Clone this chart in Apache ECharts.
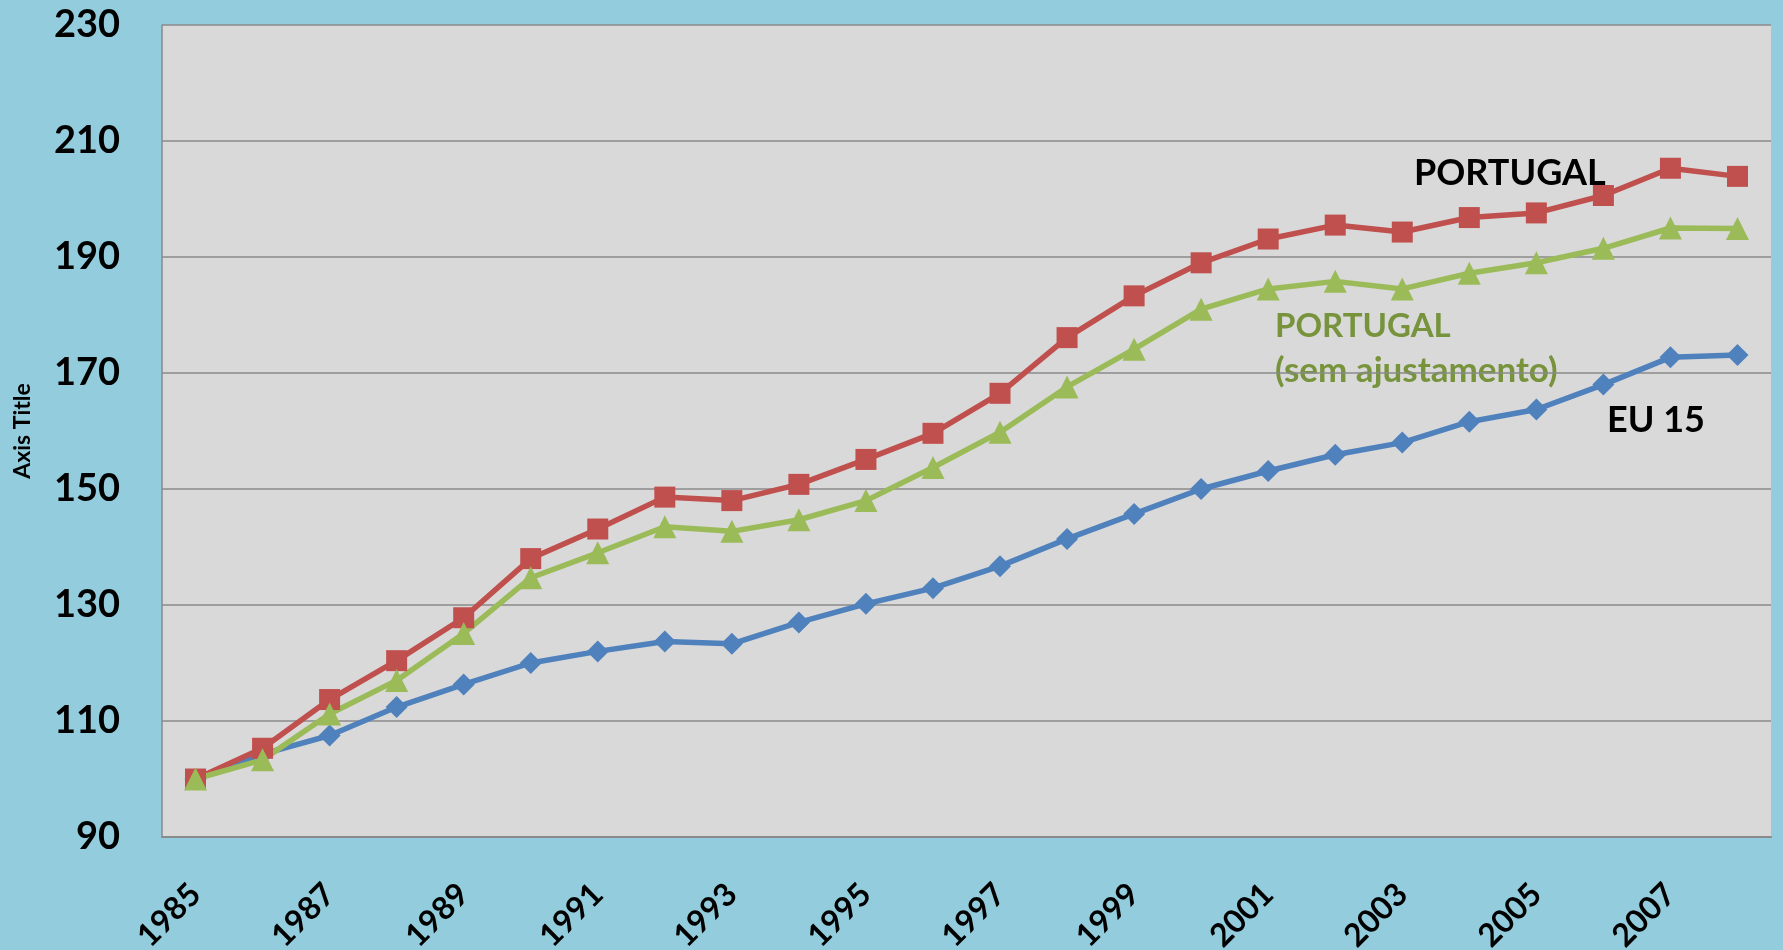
<!DOCTYPE html>
<html>
<head>
<meta charset="utf-8">
<script src="https://cdn.jsdelivr.net/npm/echarts@6/dist/echarts.min.js"></script>
<style>
  html, body { margin: 0; padding: 0; background: #93cddd; }
  #chart { width: 1783px; height: 950px; }
</style>
</head>
<body>
<div id="chart"></div>
<script>
const years = ["1985","1986","1987","1988","1989","1990","1991","1992","1993","1994","1995","1996",
  "1997","1998","1999","2000","2001","2002","2003","2004","2005","2006","2007","2008"];

const eu15 = [100, 104.3, 107.5, 112.4, 116.3, 120, 122, 123.7, 123.3, 127, 130.2, 132.9,
  136.7, 141.4, 145.7, 150, 153.1, 155.9, 158, 161.6, 163.7, 168, 172.7, 173.1];

const portugal = [100, 105.3, 113.7, 120.4, 127.8, 138, 143.1, 148.6, 148, 150.8, 155.1, 159.6,
  166.5, 176.1, 183.3, 189, 193.1, 195.5, 194.3, 196.8, 197.6, 200.6, 205.3, 203.9];

const portugalSemAjust = [100, 103.3, 111.2, 117, 125.1, 134.7, 139, 143.5, 142.7, 144.7, 148, 153.7,
  159.8, 167.6, 174.1, 181, 184.5, 185.8, 184.5, 187.2, 189, 191.5, 195, 194.9];

const BLUE = "#4f81bd";
const RED = "#c0504d";
const GREEN = "#9bbb59";
const GREEN_TEXT = "#77933c";
const GRID = "#8a8a8a";
const FONT = "Lato, 'Open Sans', sans-serif";

const chart = echarts.init(document.getElementById("chart"));

function lineSeries(name, data, color, symbol, size) {
  return {
    name,
    type: "line",
    data,
    symbol,
    symbolSize: size,
    itemStyle: { color },
    lineStyle: { color, width: 5.5 },
    emphasis: { disabled: true },
  };
}

chart.setOption({
  backgroundColor: "#93cddd",
  animation: false,
  grid: {
    left: 162, right: 12, top: 25, bottom: 113,
    outerBoundsMode: "none",
    containLabel: false,
    show: true, backgroundColor: "#d9d9d9", borderWidth: 0,
  },
  xAxis: {
    type: "category",
    data: years,
    boundaryGap: true,
    axisTick: { show: false },
    axisLine: { lineStyle: { color: GRID, width: 2 } },
    axisLabel: {
      interval: 1,
      rotate: 45,
      margin: 52,
      color: "#000",
      fontFamily: FONT,
      fontWeight: "bold",
      fontSize: 32,
    },
  },
  yAxis: {
    type: "value",
    min: 90,
    max: 230,
    interval: 20,
    name: "Axis Title",
    nameLocation: "middle",
    nameRotate: 90,
    nameGap: 128,
    nameTextStyle: { color: "#000", fontFamily: FONT, fontWeight: "bold", fontSize: 23 },
    axisLine: { show: true, lineStyle: { color: GRID, width: 1.5 } },
    axisTick: { show: false },
    splitLine: { lineStyle: { color: GRID, width: 1.5 } },
    axisLabel: {
      margin: 42,
      color: "#000",
      fontFamily: FONT,
      fontWeight: "bold",
      fontSize: 38,
    },
  },
  series: [
    lineSeries("EU 15", eu15, BLUE, "diamond", 22),
    lineSeries("PORTUGAL", portugal, RED, "rect", 21),
    lineSeries("PORTUGAL (sem ajustamento)", portugalSemAjust, GREEN, "triangle", 23),
  ],
  graphic: [
    {
      type: "text", left: 1414, top: 155,
      style: { text: "PORTUGAL", fill: "#000", font: "bold 36px " + FONT },
    },
    {
      type: "text", left: 1275, top: 310,
      style: { text: "PORTUGAL", fill: GREEN_TEXT, font: "bold 33px " + FONT },
    },
    {
      type: "text", left: 1275, top: 353,
      style: { text: "(sem ajustamento)", fill: GREEN_TEXT, font: "bold 35px " + FONT },
    },
    {
      type: "text", left: 1607, top: 402,
      style: { text: "EU 15", fill: "#000", font: "bold 36px " + FONT },
    },
  ],
});
</script>
</body>
</html>
